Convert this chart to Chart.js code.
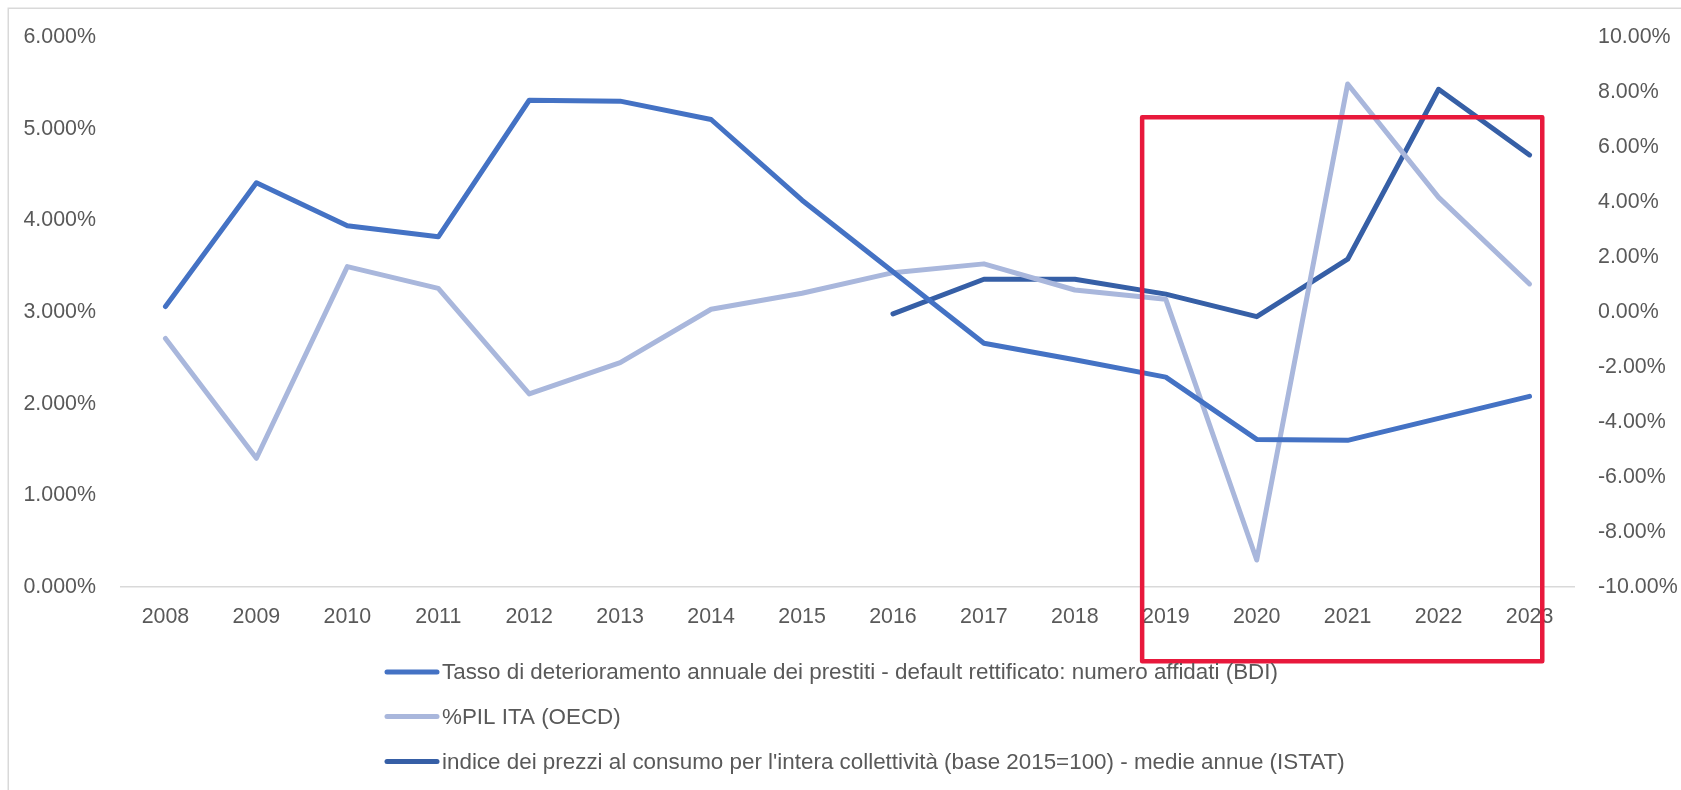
<!DOCTYPE html>
<html>
<head>
<meta charset="utf-8">
<script src="https://cdn.jsdelivr.net/npm/chart.js@4/dist/chart.umd.min.js"></script>
<style>
  html, body { margin: 0; padding: 0; background: #ffffff; }
  #wrap { width: 1681px; height: 790px; position: relative; }
  canvas { display: block; }
</style>
</head>
<body>
<div id="wrap"><canvas id="c" width="1681" height="790"></canvas></div>
<script>
// ---- data ----
const years = ['2008','2009','2010','2011','2012','2013','2014','2015','2016','2017','2018','2019','2020','2021','2022','2023'];

const seriesNames = [
  'Tasso di deterioramento annuale dei prestiti - default rettificato: numero affidati (BDI)',
  '%PIL ITA (OECD)',
  "indice dei prezzi al consumo per l'intera collettività (base 2015=100) - medie annue (ISTAT)"
];

// left axis (%)
const tassoDeterioramento = [3.06, 4.41, 3.94, 3.82, 5.31, 5.30, 5.10, 4.22, 3.44, 2.66, 2.48, 2.29, 1.61, 1.60, 1.84, 2.08];
// right axis (%)
const pilIta = [-0.96, -5.32, 1.65, 0.86, -2.98, -1.84, 0.10, 0.68, 1.43, 1.75, 0.80, 0.46, -9.02, 8.29, 4.17, 1.02];
const indicePrezzi = [null, null, null, null, null, null, null, null, -0.07, 1.19, 1.19, 0.65, -0.17, 1.92, 8.10, 5.71];

const leftTicks = { min: 0, max: 6, step: 1, decimals: 3 };
const rightTicks = { min: -10, max: 10, step: 2, decimals: 2 };

// highlight box (category index range, left-axis value range)
const highlightX = [10.74, 15.14];
const highlightY = [-0.81, 5.124];

const colors = ['#4472C4', '#A9B7DC', '#365FA6'];
const FONT = "'Liberation Sans', Arial, sans-serif";
const TEXT = '#595959';
const TICK_SIZE = 21.4;
const LEGEND_SIZE = 22.4;

const frame = {
  id: 'frame',
  beforeDraw(chart) {
    const ctx = chart.ctx;
    ctx.save();
    ctx.fillStyle = '#ffffff';
    ctx.fillRect(0, 0, chart.width, chart.height);
    ctx.strokeStyle = '#D9D9D9';
    ctx.lineWidth = 1.5;
    ctx.strokeRect(8.25, 8.25, chart.width + 20, chart.height + 20);
    ctx.restore();
  }
};

const highlight = {
  id: 'highlight',
  afterDatasetsDraw(chart) {
    const x = chart.scales.x, y = chart.scales.yL;
    const x1 = x.getPixelForValue(highlightX[0]);
    const x2 = x.getPixelForValue(highlightX[1]);
    const y1 = y.getPixelForValue(highlightY[1]);
    const y2 = y.getPixelForValue(highlightY[0]);
    const ctx = chart.ctx;
    ctx.save();
    ctx.strokeStyle = '#E8193C';
    ctx.lineWidth = 4.5;
    ctx.lineJoin = 'round';
    ctx.strokeRect(x1, y1, x2 - x1, y2 - y1);
    ctx.restore();
  }
};

const customLegend = {
  id: 'customLegend',
  afterDraw(chart) {
    const ctx = chart.ctx;
    const startX = 385, lineLen = 54, gap = 3;
    const rowY = [672, 716.5, 761.5];
    ctx.save();
    ctx.font = LEGEND_SIZE + 'px ' + FONT;
    ctx.textBaseline = 'middle';
    ctx.textAlign = 'left';
    chart.data.datasets.forEach((ds, i) => {
      ctx.strokeStyle = ds.borderColor;
      ctx.lineWidth = 5;
      ctx.lineCap = 'round';
      ctx.beginPath();
      ctx.moveTo(startX + 2, rowY[i]);
      ctx.lineTo(startX + lineLen - 2, rowY[i]);
      ctx.stroke();
      ctx.fillStyle = TEXT;
      ctx.fillText(ds.label, startX + lineLen + gap, rowY[i] + 1);
    });
    ctx.restore();
  }
};

new Chart(document.getElementById('c'), {
  type: 'line',
  data: {
    labels: years,
    datasets: [
      { label: seriesNames[0], data: tassoDeterioramento, yAxisID: 'yL', borderColor: colors[0] },
      { label: seriesNames[1], data: pilIta, yAxisID: 'yR', borderColor: colors[1] },
      { label: seriesNames[2], data: indicePrezzi, yAxisID: 'yR', borderColor: colors[2] }
    ]
  },
  options: {
    responsive: false,
    animation: false,
    devicePixelRatio: 1,
    layout: { padding: { top: 37, left: 0, right: 0, bottom: 0 } },
    elements: {
      line: { borderWidth: 5, tension: 0, borderCapStyle: 'round', borderJoinStyle: 'round', fill: false },
      point: { radius: 0, hoverRadius: 0 }
    },
    spanGaps: false,
    plugins: { legend: { display: false }, tooltip: { enabled: false } },
    scales: {
      x: {
        type: 'category',
        offset: true,
        grid: { display: false, drawTicks: false },
        border: { display: false },
        ticks: { color: TEXT, font: { family: FONT, size: TICK_SIZE }, padding: 17, maxRotation: 0, autoSkip: false },
        afterFit(s) { s.height = 203; }
      },
      yL: {
        position: 'left',
        min: leftTicks.min, max: leftTicks.max,
        grid: {
          drawTicks: false,
          lineWidth: 1.5,
          color: c => (c.tick && c.tick.value === 0) ? '#D9D9D9' : 'rgba(0,0,0,0)'
        },
        border: { display: false },
        ticks: {
          stepSize: leftTicks.step, color: TEXT, padding: 24,
          font: { family: FONT, size: TICK_SIZE },
          callback: v => v.toFixed(leftTicks.decimals) + '%'
        },
        afterFit(s) { s.width = 120; }
      },
      yR: {
        position: 'right',
        min: rightTicks.min, max: rightTicks.max,
        grid: { display: false, drawTicks: false },
        border: { display: false },
        ticks: {
          stepSize: rightTicks.step, color: TEXT, padding: 23,
          font: { family: FONT, size: TICK_SIZE },
          callback: v => v.toFixed(rightTicks.decimals) + '%'
        },
        afterFit(s) { s.width = 106; }
      }
    }
  },
  plugins: [frame, highlight, customLegend]
});
</script>
</body>
</html>
